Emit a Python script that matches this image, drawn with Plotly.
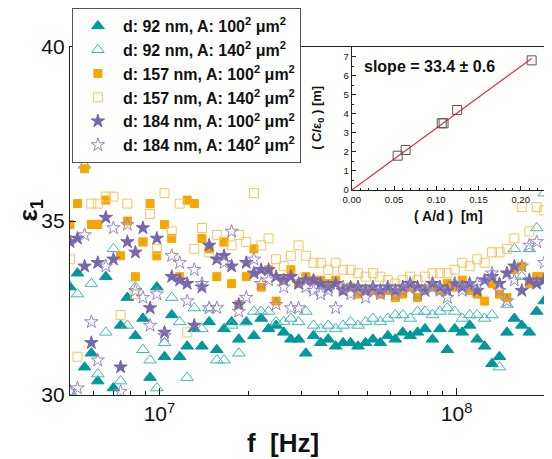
import plotly.graph_objects as go

# frequency grid (MHz)
freq_mhz = [5.0, 5.3, 5.6, 5.9, 6.2, 6.6, 7.0, 7.4, 7.8, 8.3, 8.8, 9.3, 9.8, 10.4, 11.0, 11.7,
            12.4, 13.1, 13.9, 14.7, 15.6, 16.5, 17.5, 18.5, 19.6, 20.8, 22.0, 23.3, 24.7, 26.2,
            27.7, 29.4, 31.1, 33.0, 34.9, 37.0, 39.2, 41.5, 44.0, 46.6, 49.4, 52.3, 55.4, 58.7,
            62.2, 65.9, 69.8, 73.9, 78.3, 83.0, 87.9, 93.1, 98.6, 104.5, 110.7, 117.3, 124.3,
            131.6, 139.5, 147.8, 156.5, 165.8, 175.7, 186.1, 197.2]

# d: 92 nm, A: 100^2
eps_92_100 = [33.1, 33.5, 30.8, 31.2, 30.4, 33.4, 30.2, 32.0, 32.8, 31.7, 32.2, 30.5, 33.1, 31.1,
              32.3, 31.1, 31.4, 31.9, 31.4, 32.1, 31.3, 31.9, 32.1, 31.6, 32.1, 31.7, 32.2, 31.9,
              32.0, 31.8, 31.6, 31.6, 31.2, 31.7, 31.5, 31.6, 31.4, 31.5, 31.5, 31.4, 31.5, 31.6,
              31.5, 31.7, 31.6, 31.8, 31.7, 31.8, 31.9, 31.6, 31.9, 31.3, 31.9, 31.8, 32.0, 31.6,
              31.4, 30.9, 31.1, 31.8, 32.2, 32.0, 31.8, 32.4, 32.7]
# d: 92 nm, A: 140^2
eps_92_140 = [30.1, 32.9, 36.6, 33.2, 30.6, 31.8, 34.2, 30.4, 32.0, 33.1, 31.3, 31.0, 30.2, 31.5,
              32.8, 32.1, 30.5, 32.5, 31.9, 32.5, 31.0, 31.0, 32.0, 31.2, 32.1, 32.4, 32.4, 32.4,
              32.1, 32.1, 32.2, 32.1, 32.4, 32.0, 31.9, 32.0, 31.9, 32.0, 32.1, 32.0, 32.1, 32.2,
              32.1, 32.2, 32.3, 32.3, 32.2, 32.4, 32.4, 32.3, 32.4, 32.5, 32.4, 32.2, 32.3, 32.3,
              32.2, 32.3, 30.8, 32.6, 34.2, 33.4, 34.2, 34.8, 35.8]
# d: 157 nm, A: 100^2
eps_157_100 = [34.9, 35.5, 36.5, 34.9, 34.9, 35.6, 36.8, 34.0, 35.0, 33.4, 34.4, 35.5, 34.0, 34.9,
               34.5, 33.4, 35.6, 35.5, 34.5, 34.2, 33.4, 34.4, 33.2, 32.6, 33.4, 34.2, 33.1, 33.6,
               32.7, 33.3, 33.6, 33.2, 33.4, 33.3, 33.3, 33.2, 33.3, 33.0, 33.1, 32.9, 33.0, 33.0,
               32.9, 33.0, 32.8, 32.9, 33.1, 32.8, 33.0, 33.1, 33.0, 33.2, 33.1, 33.3, 33.0, 32.9,
               32.7, 33.2, 32.9, 32.8, 33.6, 33.7, 33.2, 33.4, 33.4]
# d: 157 nm, A: 140^2
eps_157_140 = [33.9, 31.1, 36.9, 35.5, 35.5, 35.7, 35.7, 32.3, 35.5, 32.9, 34.4, 35.2, 34.2, 35.8,
               34.7, 35.5, 31.8, 34.2, 34.8, 34.1, 34.6, 34.4, 34.3, 34.6, 34.4, 35.8, 34.3, 34.5,
               33.9, 33.7, 34.0, 34.3, 34.0, 33.8, 33.8, 33.6, 33.8, 33.6, 33.6, 33.5, 33.4, 33.5,
               33.4, 33.3, 33.2, 33.3, 33.4, 33.3, 33.4, 33.5, 33.5, 33.5, 33.6, 33.8, 33.7, 33.9,
               33.8, 34.1, 34.1, 34.2, 34.5, 35.4, 34.7, 35.4, 35.3]
# d: 184 nm, A: 100^2
eps_184_100 = [34.4, 34.5, 33.7, 31.5, 33.8, 35.1, 33.9, 30.8, 34.4, 34.1, 34.8, 32.5, 34.5, 31.8,
               33.4, 33.3, 33.2, 32.0, 33.1, 34.3, 33.9, 34.0, 33.7, 32.6, 33.8, 33.5, 33.6, 33.6,
               33.4, 33.3, 33.4, 33.2, 33.3, 33.3, 33.2, 33.1, 33.2, 33.0, 33.1, 33.1, 33.0, 33.1,
               33.0, 33.1, 33.0, 33.1, 33.2, 33.1, 33.0, 33.2, 33.1, 33.0, 33.2, 33.1, 33.2, 33.0,
               33.3, 33.4, 33.2, 33.5, 33.7, 33.0, 33.3, 33.2, 33.3]
# d: 184 nm, A: 140^2
eps_184_140 = [30.1, 30.2, 34.6, 32.1, 31.0, 33.7, 34.8, 30.1, 34.9, 33.0, 32.8, 32.0, 32.9, 31.7,
               34.0, 33.8, 32.7, 33.6, 33.2, 32.5, 32.5, 33.8, 34.7, 32.4, 32.8, 33.9, 33.2, 33.3,
               32.6, 33.1, 32.5, 32.5, 33.1, 33.0, 32.9, 33.0, 32.5, 33.1, 32.9, 33.0, 32.8, 33.0,
               32.9, 33.1, 32.9, 33.0, 33.1, 32.9, 33.0, 33.1, 33.0, 32.8, 33.2, 33.0, 33.1, 33.2,
               33.3, 33.5, 33.0, 32.7, 33.3, 33.7, 34.3, 34.4, 33.8]

# inset: C/eps0 vs A/d
inset_ad = [0.0543, 0.0637, 0.1065, 0.1087, 0.1248, 0.213]
inset_c = [1.8, 2.1, 3.5, 3.5, 4.2, 6.8]
fit_x = [0.0, 0.213]
fit_y = [0.0, 6.9]

freq_hz = [f * 1e6 for f in freq_mhz]

series = [
    ("d: 92 nm, A: 100<sup>2</sup> μm<sup>2</sup>", eps_92_100, "triangle-up", "#00989A", 11),
    ("d: 92 nm, A: 140<sup>2</sup> μm<sup>2</sup>", eps_92_140, "triangle-up-open", "#3DB8B8", 11),
    ("d: 157 nm, A: 100<sup>2</sup> μm<sup>2</sup>", eps_157_100, "square", "#F7A600", 8),
    ("d: 157 nm, A: 140<sup>2</sup> μm<sup>2</sup>", eps_157_140, "square-open", "#F9C35E", 9),
    ("d: 184 nm, A: 100<sup>2</sup> μm<sup>2</sup>", eps_184_100, "star", "#7567AD", 10),
    ("d: 184 nm, A: 140<sup>2</sup> μm<sup>2</sup>", eps_184_140, "star-open", "#9586C4", 10),
]

FONT = "Liberation Sans, Arial, sans-serif"

fig = go.Figure()
for name, vals, sym, col, sz in series:
    fig.add_trace(go.Scatter(
        x=freq_hz, y=vals, mode="markers", name="<b>" + name + "</b>",
        marker=dict(symbol=sym, color=col, size=sz, line=dict(color=col, width=1)),
        xaxis="x", yaxis="y"))

# inset
fig.add_trace(go.Scatter(x=fit_x, y=fit_y, mode="lines", showlegend=False,
                         line=dict(color="#E0303A", width=1.2), xaxis="x2", yaxis="y2"))
fig.add_trace(go.Scatter(x=inset_ad, y=inset_c, mode="markers", showlegend=False,
                         marker=dict(symbol="square-open", color="#555555", size=9,
                                     line=dict(width=1)),
                         xaxis="x2", yaxis="y2"))

minor_f = [6e6, 7e6, 8e6, 9e6, 2e7, 3e7, 4e7, 5e7, 6e7, 7e7, 8e7, 9e7, 2e8]

# page has an 8px body margin, so the figure is 8px smaller than the window
fig.update_layout(
    width=544, height=451,
    margin=dict(l=62, r=6, t=39, b=64, autoexpand=False),
    paper_bgcolor="white", plot_bgcolor="#FFFFFE",
    font=dict(family=FONT, color="#111111"),
    xaxis=dict(type="log", range=[6.699, 8.301], domain=[0, 1], automargin=False,
               tickvals=[1e7, 1e8], ticktext=["10<sup>7</sup>", "10<sup>8</sup>"],
               ticks="inside", ticklen=7, tickcolor="#222", tickfont=dict(size=21),
               minor=dict(tickvals=minor_f, ticks="inside", ticklen=4, tickcolor="#222"),
               showline=True, linecolor="#222", linewidth=1.3, mirror=True,
               showgrid=False, zeroline=False),
    yaxis=dict(range=[30, 40], domain=[0, 1], tickvals=[30, 35, 40], automargin=False,
               ticks="inside", ticklen=6, tickcolor="#222", tickfont=dict(size=21),
               showline=True, linecolor="#222", linewidth=1.3, mirror=True,
               showgrid=False, zeroline=False),
    xaxis2=dict(domain=[0.592, 1.0], anchor="y2", range=[0, 0.23], dtick=0.05,
                tickformat=".2f", ticks="inside", ticklen=4, tickcolor="#222",
                tickfont=dict(size=9.5), automargin=False,
                minor=dict(dtick=0.01, ticks="inside", ticklen=2, tickcolor="#222"),
                showline=True, linecolor="#222", linewidth=1.2, mirror=True,
                showgrid=False, zeroline=False),
    yaxis2=dict(domain=[0.589, 1.0], anchor="x2", range=[0, 7.5], dtick=1,
                ticks="inside", ticklen=4, tickcolor="#222", tickfont=dict(size=9.5),
                automargin=False,
                minor=dict(dtick=0.5, ticks="inside", ticklen=2, tickcolor="#222"),
                showline=True, linecolor="#222", linewidth=1.2, mirror=True,
                showgrid=False, zeroline=False),
    legend=dict(x=0.004, y=1.112, xanchor="left", yanchor="top",
                bgcolor="white", bordercolor="#555", borderwidth=1,
                font=dict(size=16, family=FONT, color="#111"),
                itemwidth=40, tracegroupgap=0),
    showlegend=True,
)

fig.add_annotation(text="<b>f  [Hz]</b>", xref="paper", yref="paper", x=0.4475, y=-0.138,
                   showarrow=False, font=dict(size=26), xanchor="center", yanchor="middle")
fig.add_annotation(text="<b>ε<sub>1</sub></b>", xref="paper", yref="paper", x=-0.084, y=0.53,
                   showarrow=False, font=dict(size=26), textangle=-90,
                   xanchor="center", yanchor="middle")
fig.add_annotation(text="<b>slope = 33.4 ± 0.6</b>", xref="paper", yref="paper",
                   x=0.756, y=0.945, showarrow=False, font=dict(size=16),
                   xanchor="center", yanchor="middle")
fig.add_annotation(text="<b>( A/d )  [m]</b>", xref="paper", yref="paper",
                   x=0.795, y=0.513, showarrow=False, font=dict(size=14),
                   xanchor="center", yanchor="middle")
fig.add_annotation(text="<b>( C/ε<sub>0</sub> ) [m]</b>", xref="paper", yref="paper",
                   x=0.52, y=0.795, showarrow=False, font=dict(size=13), textangle=-90,
                   xanchor="center", yanchor="middle")

fig.write_html("out.html")
